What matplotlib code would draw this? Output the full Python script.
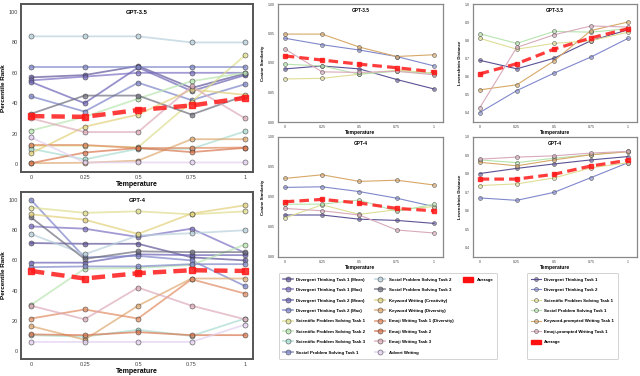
import matplotlib
matplotlib.use('Agg')
import matplotlib.pyplot as plt
from matplotlib.lines import Line2D
from matplotlib.patches import Patch

plt.rcParams['font.family'] = ['Liberation Sans', 'DejaVu Sans']

temps = [0, 0.25, 0.5, 0.75, 1]
temp_labels = ['0', '0.25', '0.5', '0.75', '1']

tasks = ['Divergent Thinking Task 1 (Mean)', 'Divergent Thinking Task 1 (Max)',
         'Divergent Thinking Task 2 (Mean)', 'Divergent Thinking Task 2 (Max)',
         'Scientific Problem Solving Task 1', 'Scientific Problem Solving Task 2',
         'Scientific Problem Solving Task 3', 'Social Problem Solving Task 1',
         'Social Problem Solving Task 2', 'Social Problem Solving Task 3',
         'Keyword Writing (Creativity)', 'Keyword Writing (Diversity)',
         'Emoji Writing Task 1 (Diversity)', 'Emoji Writing Task 2',
         'Emoji Writing Task 3', 'Advert Writing']
task_colors = ['#5e5599', '#7b6fc2', '#6b63b5', '#7c84c8',
               '#dede8e', '#b8e6b0', '#a8dcd0', '#7f88c8',
               '#b8d0dc', '#6e6e7e', '#e2d07a', '#dfa870',
               '#e08a60', '#d9764e', '#dcaab8', '#e2cff0']

# percentile rank, GPT-3.5
pr35 = [
    [57, 58.5, 64.5, 50, 59.5],
    [55, 57.5, 60, 60, 60],
    [54, 40, 63.5, 48, 58.5],
    [44.5, 34.5, 53.5, 42, 52.5],
    [12, 12, 11, 41, 71.5],
    [22, 31, 43, 54.5, 60],
    [10, 3, 10, 10, 21.5],
    [63.6, 63.6, 63.6, 63.6, 63.6],
    [84, 84, 84, 80, 80],
    [33, 45, 45, 32.5, 45],
    [7, 24.5, 32.5, 49, 45.5],
    [0.5, 0.8, 2.2, 16.3, 16.3],
    [12.5, 12.5, 10.5, 10.5, 10.8],
    [0.5, 7.5, 10.5, 7.8, 10.6],
    [30, 21, 21, 51, 30],
    [17.5, 1, 1, 1, 1],
]
pr35_avg = [31.5, 31, 35.5, 38.5, 43.5]

# percentile rank, GPT-4
pr4 = [
    [71.5, 71, 71, 62, 60],
    [82.5, 81, 75.5, 81, 65],
    [58.5, 58.5, 64, 63.5, 63.5],
    [100, 62, 63, 60, 43],
    [95, 91.5, 92.5, 90.5, 92.5],
    [30.5, 54.5, 55, 57, 70.5],
    [10.5, 9.5, 14, 10, 21.5],
    [55.5, 56, 56, 57.5, 57.5],
    [77.5, 64, 76.5, 78, 80],
    [88.5, 61, 66, 65.5, 65.5],
    [90.5, 87, 77.5, 91, 96.5],
    [16.5, 7.5, 30, 48, 48],
    [21.5, 27.5, 21.5, 47.5, 38],
    [11, 10.5, 12.5, 10.5, 10.5],
    [30, 21, 42, 30, 21],
    [6, 6, 6, 6, 17.5],
]
pr4_avg = [53, 48, 51.5, 53.5, 53]

tasks2 = ['Divergent Thinking Task 1', 'Divergent Thinking Task 2',
          'Scientific Problem Solving Task 1', 'Social Problem Solving Task 1',
          'Keyword-prompted Writing Task 1', 'Emoji-prompted Writing Task 1']
task2_colors = ['#5b5296', '#8088cc', '#dede96', '#b6e4ae', '#d8a868', '#d8aabb']

cos35 = [
    [0.890, 0.895, 0.890, 0.872, 0.856],
    [0.942, 0.931, 0.922, 0.911, 0.895],
    [0.873, 0.874, 0.881, 0.888, 0.883],
    [0.898, 0.895, 0.881, 0.886, 0.882],
    [0.949, 0.949, 0.927, 0.911, 0.914],
    [0.924, 0.885, 0.884, 0.886, 0.880],
]
cos35_avg = [0.912, 0.905, 0.898, 0.892, 0.885]

lev35 = [
    [0.690, 0.643, 0.701, 0.798, 0.858],
    [0.402, 0.523, 0.619, 0.708, 0.811],
    [0.811, 0.751, 0.783, 0.798, 0.845],
    [0.836, 0.783, 0.849, 0.845, 0.864],
    [0.527, 0.555, 0.686, 0.854, 0.901],
    [0.428, 0.761, 0.830, 0.879, 0.873],
]
lev35_avg = [0.615, 0.671, 0.751, 0.813, 0.864]

cos4 = [
    [0.870, 0.870, 0.863, 0.861, 0.856],
    [0.916, 0.917, 0.909, 0.898, 0.884],
    [0.865, 0.887, 0.871, 0.879, 0.884],
    [0.888, 0.888, 0.895, 0.876, 0.888],
    [0.931, 0.937, 0.926, 0.928, 0.920],
    [0.881, 0.877, 0.870, 0.845, 0.840],
]
cos4_avg = [0.892, 0.896, 0.890, 0.881, 0.877]

lev4 = [
    [0.802, 0.830, 0.854, 0.876, 0.894],
    [0.670, 0.657, 0.700, 0.780, 0.861],
    [0.737, 0.746, 0.778, 0.833, 0.861],
    [0.876, 0.861, 0.885, 0.904, 0.922],
    [0.863, 0.844, 0.876, 0.904, 0.920],
    [0.880, 0.891, 0.898, 0.913, 0.922],
]
lev4_avg = [0.772, 0.772, 0.798, 0.843, 0.874]

W, H = 640, 376
fig = plt.figure(figsize=(6.4, 3.76), dpi=100)
fig.patch.set_facecolor('white')


def px_axes(x0, y0, x1, y1):
    return fig.add_axes([x0 / W, 1 - y1 / H, (x1 - x0) / W, (y1 - y0) / H])


def style_axes(ax, title, ylabel, fs, tfs, lw, edge):
    ax.set_title(title, fontsize=tfs, fontweight='bold', y=0.965, pad=0, va='top')
    ax.set_xticks(temps)
    ax.set_xticklabels(temp_labels)
    ax.tick_params(length=0, labelsize=fs - 0.6, colors='#444444', pad=2)
    ax.set_xlabel('Temperature', fontsize=fs + 0.4, fontweight='bold', labelpad=1)
    ax.set_ylabel(ylabel, fontsize=fs, fontweight='bold', labelpad=2)
    for s in ax.spines.values():
        s.set_color(edge)
        s.set_linewidth(lw)


def draw_big(ax, data, avg, title):
    for vals, c, name in zip(data, task_colors, tasks):
        ax.plot(temps, vals, color=c, lw=1.3, alpha=0.7, label=name,
                marker='o', ms=3.6, mfc=c, mec='#333333', mew=0.5)
    ax.plot(temps, avg, color='#ff1a1a', lw=3.2, ls=(0, (3, 1.6)), alpha=0.85,
            marker='s', ms=4.5, mec='#ff1a1a', label='Average', zorder=5)
    ax.set_xlim(-0.047, 1.037)
    ax.set_ylim(-5.3, 105.3)
    ax.set_yticks([0, 20, 40, 60, 80, 100])
    style_axes(ax, title, 'Percentile Rank', 4.6, 4.2, 1.4, '#555555')


def draw_small(ax, data, avg, title, ylabel, ylim, yticks, yfmt):
    for vals, c, name in zip(data, task2_colors, tasks2):
        ax.plot(temps, vals, color=c, lw=0.8, label=name,
                marker='o', ms=2.8, mfc=c + '99', mec='#555555', mew=0.4)
    ax.plot(temps, avg, color='#ff1a1a', lw=2.3, ls=(0, (3, 1.6)), alpha=0.85,
            marker='s', ms=3.2, mec='#ff1a1a', label='Average', zorder=5)
    ax.set_xlim(-0.045, 1.06)
    ax.set_ylim(*ylim)
    ax.set_yticks(yticks)
    ax.set_yticklabels([yfmt.format(v) for v in yticks])
    style_axes(ax, title, ylabel, 3.2, 3.4, 0.9, '#888888')


ax1 = px_axes(21, 4, 253, 172)
draw_big(ax1, pr35, pr35_avg, 'GPT-3.5')
ax2 = px_axes(21, 192, 253, 359)
draw_big(ax2, pr4, pr4_avg, 'GPT-4')

cos_ticks = [0.80, 0.85, 0.90, 0.95, 1.00]
lev_ticks = [0.4, 0.5, 0.6, 0.7, 0.8, 0.9, 1.0]

ax3 = px_axes(278, 4, 443, 122)
draw_small(ax3, cos35, cos35_avg, 'GPT-3.5', 'Cosine Similarity', (0.8, 1.0), cos_ticks, '{:.2f}')
ax4 = px_axes(473, 4, 637, 122)
draw_small(ax4, lev35, lev35_avg, 'GPT-3.5', 'Levenshtein Distance', (0.35, 1.0), lev_ticks, '{:.1f}')
ax5 = px_axes(278, 137, 443, 257)
draw_small(ax5, cos4, cos4_avg, 'GPT-4', 'Cosine Similarity', (0.8, 1.0), cos_ticks, '{:.2f}')
ax6 = px_axes(473, 137, 637, 257)
draw_small(ax6, lev4, lev4_avg, 'GPT-4', 'Levenshtein Distance', (0.35, 1.0), lev_ticks, '{:.1f}')

# legends: average shown as a red block
avg_patch = Patch(facecolor='#ff1010', edgecolor='#ff1010')
blank = Line2D([], [], alpha=0)

h, l = ax1.get_legend_handles_labels()
h = h[:-1] + [avg_patch] + [blank] * 7
l = l + [''] * 7
leg_kw = dict(loc='upper left', prop={'weight': 'bold', 'size': 3.15},
              frameon=True, fancybox=True, edgecolor='#cccccc', framealpha=1,
              labelspacing=1.3, handlelength=2.2, handleheight=1.2,
              borderpad=0.9, handletextpad=0.8)
leg1 = fig.legend(h, l, bbox_to_anchor=(277 / W, 1 - 271 / H), ncol=3,
                  columnspacing=2.3, **leg_kw)
leg1.get_frame().set_linewidth(0.6)

h2, l2 = ax3.get_legend_handles_labels()
h2 = h2[:-1] + [avg_patch, blank]
l2 = l2 + ['']
leg2 = fig.legend(h2, l2, bbox_to_anchor=(525 / W, 1 - 271 / H), ncol=1, **leg_kw)
leg2.get_frame().set_linewidth(0.6)

fig.savefig('out.png', dpi=100, facecolor='white')
